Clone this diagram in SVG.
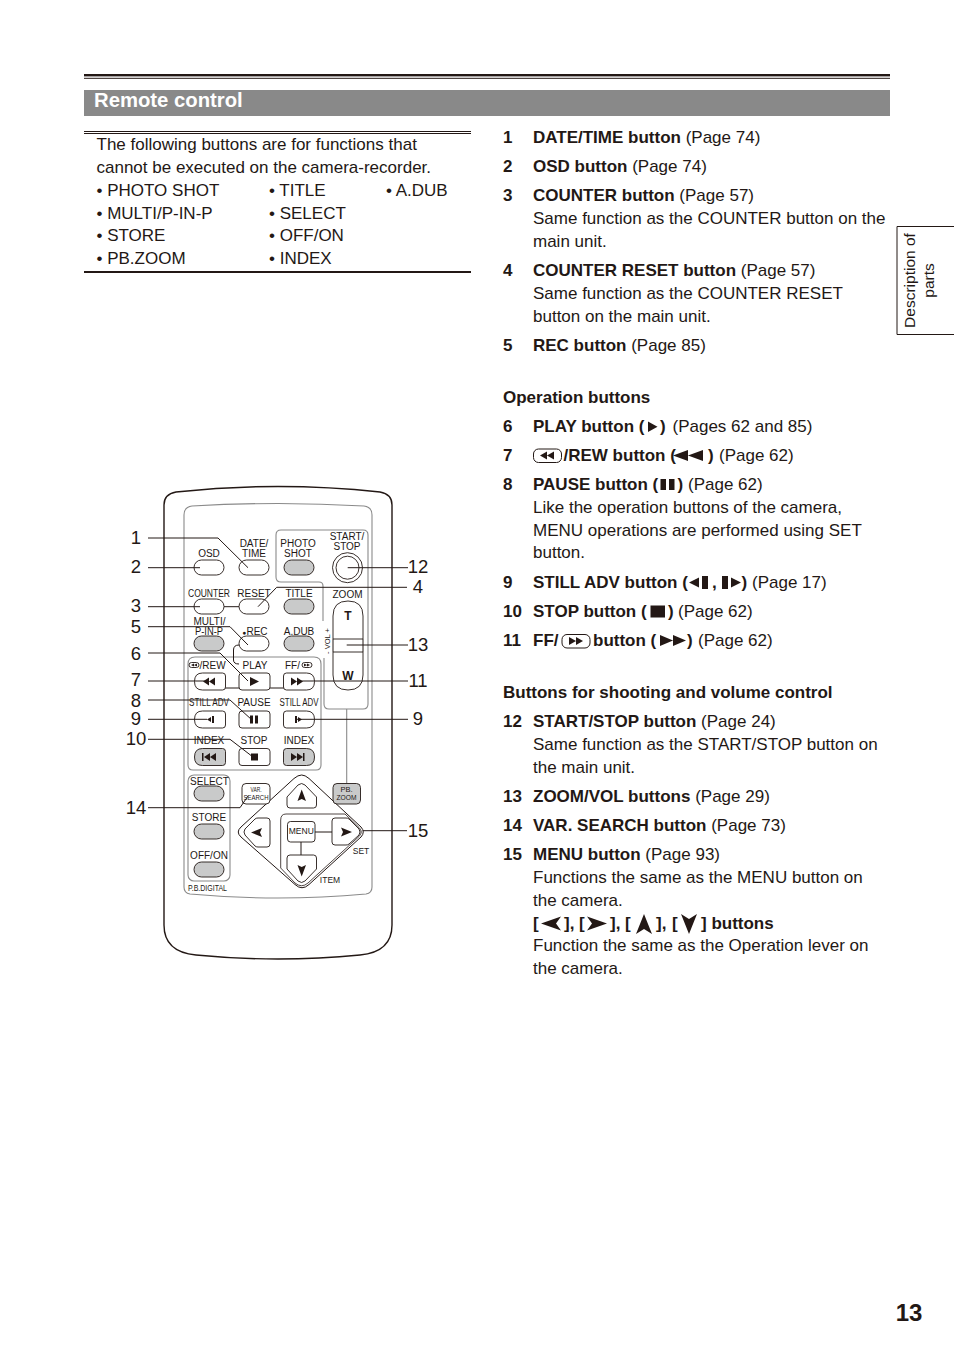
<svg xmlns="http://www.w3.org/2000/svg" width="954" height="1354" viewBox="0 0 954 1354">
<style>
text{font-family:"Liberation Sans",Arial,sans-serif;fill:#231815}
.t{font-size:17px}
.b{font-size:17px;font-weight:bold}
.n{font-size:18.5px;text-anchor:middle}
.s{font-size:10px;text-anchor:middle}
.v{font-size:7.5px;text-anchor:middle}
.o{fill:#fff;stroke:#231815;stroke-width:.9}
.g{fill:#c9caca;stroke:#231815;stroke-width:.9}
.p{fill:none;stroke:#8a8a8a;stroke-width:1.1}
.k{fill:none;stroke:#231815;stroke-width:1}
.f{fill:#231815;stroke:none}
</style>
<defs>
<path id="bl" d="M-7.500-8.500H12.500Q15.500-8.500 15.500-5.500V5.500Q15.500 8.500 12.500 8.500H-7.500Q-15.500 8.500-15.500 0Q-15.500-8.500-7.500-8.500Z"/>
<path id="br" d="M-12.500-8.500H7.500Q15.500-8.500 15.500 0Q15.500 8.500 7.500 8.500H-12.500Q-15.500 8.500-15.500 5.500V-5.500Q-15.500-8.500-12.500-8.500Z"/>
</defs>
<rect id="rule-top-a" x="84" y="74" width="806" height="2.4" fill="#231815"/>
<rect id="rule-top-b" x="84" y="77.800" width="806" height="1" fill="#231815"/>
<g id="heading"><rect x="84" y="90" width="806" height="26" fill="#898989"/>
<text x="94" y="106.500" style="font-size:20.300px;font-weight:bold;fill:#fff">Remote control</text></g>
<g id="intro">
<rect x="84" y="131" width="387" height="1" fill="#231815"/><rect x="84" y="133" width="387" height="1" fill="#231815"/>
<text class="t" x="96.500" y="150">The following buttons are for functions that</text>
<text class="t" x="96.500" y="173">cannot be executed on the camera-recorder.</text>
<text class="t" x="96.500" y="196">• PHOTO SHOT</text><text class="t" x="269" y="196">• TITLE</text><text class="t" x="386" y="196">• A.DUB</text>
<text class="t" x="96.500" y="219">• MULTI/P-IN-P</text><text class="t" x="269" y="219">• SELECT</text>
<text class="t" x="96.500" y="241">• STORE</text><text class="t" x="269" y="241">• OFF/ON</text>
<text class="t" x="96.500" y="264">• PB.ZOOM</text><text class="t" x="269" y="264">• INDEX</text>
<rect x="84" y="271" width="387" height="2" fill="#231815"/>
</g>
<g id="tab"><path d="M954 226.500H897V334.500H954" fill="none" stroke="#231815" stroke-width="1"/>
<text transform="translate(915,280.500) rotate(-90)" style="font-size:15.500px;text-anchor:middle">Description of</text>
<text transform="translate(934,280.500) rotate(-90)" style="font-size:15.500px;text-anchor:middle">parts</text></g>
<text id="page-number" x="909" y="1321" style="font-size:24px;font-weight:bold;text-anchor:middle">13</text>

<g id="remote-body">
<path d="M164 505Q164 494 176 492Q278 481 380 492Q392 494 392 505V925Q392 952 360 955Q278 963 196 955Q164 952 164 925Z" fill="#fff" stroke="#231815" stroke-width="1.4"/>
<path class="p" d="M184 515Q184 507 192 506Q278 501 364 506Q372 507 372 515V887Q372 893 366 894Q278 902 190 894Q184 893 184 887Z"/>
<path class="p" d="M323 621V586Q323 582 319 582H281Q276 582 276 577V535Q276 530 281 530H363Q368 530 368 535V704Q368 709 363 709H329Q324 709 324 704V658"/>
<path class="p" d="M346.700 709V783"/>
<path class="p" d="M188 664Q188 657 195 657H314Q321 657 321 664V765Q321 770 316 770H193Q188 770 188 765V664"/>
<path class="k" d="M239 645Q233.500 645 233.500 650V660Q233.500 664 239 664" stroke-width=".8"/>
<rect class="p" x="188" y="775" width="42" height="106" rx="6"/>
<path class="k" d="M224 606.700H239" stroke-width=".8"/>
<path class="k" d="M225 688H284" stroke-width=".8"/>
</g>
<g id="dpad">
<path class="k" d="M301.700 775Q305 775 309 778.500L361 827Q365.500 832 361 837L309 884.500Q302 891 295 884.500L241 837Q235.500 832 241 827L294 778.500Q298 775 301.700 775Z"/>
<path d="M280.700 862V820Q280.700 814 286 814H345L359 827.500Q363.500 832 359 836.500L308 883Q301.700 888.500 295 883L280.700 868Z" fill="none" stroke="#231815" stroke-width=".8"/>
<text style="font-size:8.500px;text-anchor:middle" x="361" y="854">SET</text><text style="font-size:8.500px;text-anchor:middle" x="330" y="883">ITEM</text>
<path class="k" d="M315 832H332M301 842V855"/></g>

<g id="btn-osd"><rect class="o" x="194" y="560" width="30" height="15" rx="7.500"/><text class="s" x="209" y="557">OSD</text></g>
<g id="btn-date"><rect class="o" x="239" y="560" width="30" height="15" rx="7.500"/><text class="s" x="254" y="547">DATE/</text><text class="s" x="254" y="557">TIME</text></g>
<g id="btn-photo"><rect class="g" x="284" y="560" width="30" height="15" rx="7.500"/><text class="s" x="298" y="547">PHOTO</text><text class="s" x="298" y="557">SHOT</text></g>
<g id="btn-start"><circle class="o" cx="347.500" cy="567.700" r="15"/><circle class="o" cx="347.500" cy="567.700" r="11.500"/><text class="s" x="347" y="540">START/</text><text class="s" x="347" y="549.500">STOP</text></g>
<g id="btn-counter"><rect class="o" x="194" y="599" width="30" height="15" rx="7.500"/><text class="s" x="209" y="597" textLength="42" lengthAdjust="spacingAndGlyphs">COUNTER</text></g>
<g id="btn-reset"><rect class="o" x="239" y="599" width="30" height="15" rx="7.500"/><text class="s" x="254" y="597">RESET</text></g>
<g id="btn-title"><rect class="g" x="284" y="599" width="30" height="15" rx="7.500"/><text class="s" x="299" y="597">TITLE</text></g>
<g id="btn-multi"><rect class="g" x="194" y="636" width="30" height="15" rx="7.500"/><text class="s" x="209.500" y="625">MULTI/</text><text class="s" x="209" y="634.500" textLength="28" lengthAdjust="spacingAndGlyphs">P-IN-P</text></g>
<g id="btn-rec"><rect class="o" x="239" y="636" width="30" height="15" rx="7.500"/><text class="s" x="255" y="634.500"><tspan font-size="6.500">●</tspan>REC</text></g>
<g id="btn-adub"><rect class="g" x="284" y="636" width="30" height="15" rx="7.500"/><text class="s" x="299" y="634.500">A.DUB</text></g>

<g id="btn-rew"><use href="#bl" class="o" x="210" y="681.500"/><path class="f" d="M203 681.500L209 677.500V685.500ZM209 681.500L215 677.500V685.500Z"/><rect class="o" x="189" y="662.500" width="10" height="5" rx="2.500"/><path class="f" d="M191 665L194 663.500V666.500ZM194 665L197 663.500V666.500Z"/><text style="font-size:10px" x="199.500" y="668.500">/REW</text></g>
<g id="btn-play"><rect class="o" x="239" y="673" width="31" height="17" rx="3"/><path class="f" d="M250 677L259 681.500L250 686Z"/><text class="s" x="255" y="668.500">PLAY</text></g>
<g id="btn-ff"><use href="#br" class="o" x="299" y="681.500"/><path class="f" d="M291 677.500V685.500L297 681.500ZM297 677.500V685.500L303 681.500Z"/><text style="font-size:10px" x="285" y="668.500">FF/</text><rect class="o" x="302" y="662.500" width="10" height="5" rx="2.500"/><path class="f" d="M304 663.500V666.500L307 665ZM307 663.500V666.500L310 665Z"/></g>
<g id="btn-still-l"><use href="#bl" class="o" x="210" y="719.500"/><path class="f" d="M207 719.500L211 717V722ZM212 716H214V723H212Z"/><text class="s" x="209" y="706" textLength="40" lengthAdjust="spacingAndGlyphs">STILL ADV</text></g>
<g id="btn-pause"><rect class="o" x="239" y="711" width="31" height="17" rx="3"/><path class="f" d="M250 715.500H253V723.500H250ZM255 715.500H258V723.500H255Z"/><text class="s" x="254" y="706">PAUSE</text></g>
<g id="btn-still-r"><use href="#br" class="o" x="299" y="719.500"/><path class="f" d="M295 716H297V723H295ZM298 717L302 719.500L298 722Z"/><text class="s" x="299" y="706" textLength="39" lengthAdjust="spacingAndGlyphs">STILL ADV</text></g>
<g id="btn-index-l"><use href="#bl" class="g" x="210" y="757"/><path class="f" d="M202 753H203.500V761H202ZM204 757L210 753V761ZM210 757L216 753V761Z"/><text class="s" x="209" y="744">INDEX</text></g>
<g id="btn-stop"><rect class="o" x="239" y="748.500" width="31" height="17" rx="3"/><rect class="f" x="251" y="753.500" width="7" height="7"/><text class="s" x="254" y="744">STOP</text></g>
<g id="btn-index-r"><use href="#br" class="g" x="299" y="757"/><path class="f" d="M291 753V761L297 757ZM297 753V761L303 757ZM303 753H304.500V761H303Z"/><text class="s" x="299" y="744">INDEX</text></g>

<g id="btn-select"><rect class="g" x="194" y="786" width="30" height="15" rx="7.500"/><text class="s" x="209.500" y="785">SELECT</text></g>
<g id="btn-store"><rect class="g" x="194" y="824" width="30" height="15" rx="7.500"/><text class="s" x="209" y="821">STORE</text></g>
<g id="btn-offon"><rect class="g" x="194" y="862" width="30" height="15" rx="7.500"/><text class="s" x="209" y="859">OFF/ON</text></g>
<text id="label-pbdigital" x="207.500" y="891" style="font-size:9.500px;text-anchor:middle" textLength="39" lengthAdjust="spacingAndGlyphs">P.B.DIGITAL</text>

<g id="btn-zoom"><path class="o" d="M333 639V616Q333 601 348 601Q363 601 363 616V639Z"/><path class="o" d="M333 652V675Q333 690 348 690Q363 690 363 675V652Z"/><path class="k" d="M333 639V652M363 639V652"/><text x="348" y="620" style="font-size:12px;font-weight:bold;text-anchor:middle">T</text><text x="348" y="680" style="font-size:12px;font-weight:bold;text-anchor:middle">W</text><text class="s" x="347.500" y="598">ZOOM</text><text class="v" transform="translate(330,641) rotate(-90)">- VOL +</text></g>
<g id="btn-var"><rect class="o" x="242" y="783.500" width="28" height="20.500" rx="4"/><text class="v" x="256" y="792" textLength="11" lengthAdjust="spacingAndGlyphs">VAR.</text><text class="v" x="256" y="800" textLength="25" lengthAdjust="spacingAndGlyphs">SEARCH</text></g>
<g id="btn-pbzoom"><rect class="g" x="333" y="783.500" width="27.500" height="20.500" rx="4"/><text class="v" x="346.500" y="792">PB.</text><text class="v" x="346.500" y="800" textLength="20" lengthAdjust="spacingAndGlyphs">ZOOM</text></g>
<g id="btn-up"><path class="o" stroke-linejoin="round" d="M298 785Q301.700 782 305 785L316.500 797V805Q316.500 808 313.500 808H290Q287 808 287 805V797Z"/><path class="f" d="M301.700 789.500L306 801L301.700 799L297.500 801Z"/></g>
<g id="btn-down"><path class="o" stroke-linejoin="round" d="M298 881Q301.700 884 305 881L316.500 869V858Q316.500 855 313.500 855H290Q287 855 287 858V869Z"/><path class="f" d="M301.700 876.500L306 865L301.700 867L297.500 865Z"/></g>
<g id="btn-left"><path class="o" d="M245 829L255 819Q256 818 258 818H267Q270 818 270 821V844Q270 847 267 847H258Q256 847 255 846L245 835Q243 832 245 829Z"/><path class="f" d="M251 832.500L262 828L260 832.500L262 837Z"/></g>
<g id="btn-right"><path class="o" d="M359 829L349 819Q348 818 346 818H335Q332 818 332 821V842Q332 845 335 845H346Q348 845 349 844L359 835Q361 832 359 829Z"/><path class="f" d="M352 832L341 827.500L343 832L341 836.500Z"/></g>
<g id="btn-menu"><rect class="o" x="287.500" y="821.500" width="27.500" height="20.500" rx="3"/><text x="301.300" y="834" style="font-size:8.500px;text-anchor:middle">MENU</text></g>

<g id="connectors">
<path class="k" d="M148 538H218L248 567.700"/>
<path class="k" d="M148 567.700H200"/>
<path class="k" d="M148 606.700H200"/>
<path class="k" d="M148 626.700H230L248 645"/>
<path class="k" d="M148 653H220L248 681"/>
<path class="k" d="M148 681H205"/>
<path class="k" d="M148 700H230L252 720"/>
<path class="k" d="M148 719.300H207"/>
<path class="k" d="M148 739.300H230L253 757"/>
<path class="k" d="M148 807.700H240L248 796"/>
<path class="k" d="M408 567.700H347.700"/>
<path class="k" d="M407 587.300H276.700L258 606.700"/>
<path class="k" d="M408 645H346.700"/>
<path class="k" d="M408 681H297"/>
<path class="k" d="M408 719.300H295"/>
<path class="k" d="M407 830.700H363"/>
</g>
<g id="callouts">
<text class="n" x="136" y="544">1</text><text class="n" x="136" y="573">2</text><text class="n" x="136" y="612">3</text><text class="n" x="136" y="633">5</text><text class="n" x="136" y="660">6</text><text class="n" x="136" y="686">7</text><text class="n" x="136" y="707">8</text><text class="n" x="136" y="725">9</text><text class="n" x="136" y="745">10</text><text class="n" x="136" y="814">14</text>
<text class="n" x="418" y="573">12</text><text class="n" x="418" y="593">4</text><text class="n" x="418" y="651">13</text><text class="n" x="418" y="687">11</text><text class="n" x="418" y="725">9</text><text class="n" x="418" y="837">15</text>
</g>

<g id="descriptions">
<text class="b" x="503" y="143">1</text><text class="t" x="533" y="143"><tspan class="b">DATE/TIME button</tspan> (Page 74)</text>
<text class="b" x="503" y="172">2</text><text class="t" x="533" y="172"><tspan class="b">OSD button</tspan> (Page 74)</text>
<text class="b" x="503" y="201">3</text><text class="t" x="533" y="201"><tspan class="b">COUNTER button</tspan> (Page 57)</text>
<text class="t" x="533" y="224">Same function as the COUNTER button on the</text>
<text class="t" x="533" y="247">main unit.</text>
<text class="b" x="503" y="276">4</text><text class="t" x="533" y="276"><tspan class="b">COUNTER RESET button</tspan> (Page 57)</text>
<text class="t" x="533" y="299">Same function as the COUNTER RESET</text>
<text class="t" x="533" y="322">button on the main unit.</text>
<text class="b" x="503" y="351">5</text><text class="t" x="533" y="351"><tspan class="b">REC button</tspan> (Page 85)</text>
<text class="b" x="503" y="403">Operation buttons</text>
<text class="b" x="503" y="432">6</text><text class="b" x="533" y="432">PLAY button (</text><path class="f" d="M648 421.500L657.500 426.700L648 432Z"/><text class="b" x="660" y="432">)</text><text class="t" x="672.500" y="432">(Pages 62 and 85)</text>
<text class="b" x="503" y="461">7</text><rect x="533.500" y="449" width="28" height="13.500" rx="5" fill="none" stroke="#231815"/><path class="f" d="M540 455.500L547 451.500V459.500ZM547 455.500L554 451.500V459.500Z"/><text class="b" x="563.500" y="461">/REW button (</text><path class="f" d="M673 455.500L688 450V461ZM688 455.500L703 450V461Z"/><text class="b" x="708" y="461">)</text><text class="t" x="719" y="461">(Page 62)</text>
<text class="b" x="503" y="490">8</text><text class="b" x="533" y="490">PAUSE button (</text><path class="f" d="M660.500 479H666V490H660.500ZM669 479H674.500V490H669Z"/><text class="b" x="677.500" y="490">)</text><text class="t" x="688" y="490">(Page 62)</text>
<text class="t" x="533" y="513">Like the operation buttons of the camera,</text>
<text class="t" x="533" y="536">MENU operations are performed using SET</text>
<text class="t" x="533" y="558">button.</text>
<text class="b" x="503" y="588">9</text><text class="b" x="533" y="588">STILL ADV button (</text><path class="f" d="M689 582.500L699 577.500V587.500ZM702 576H708V589H702Z"/><text class="b" x="712" y="588">,</text><path class="f" d="M722 576H728V589H722ZM731 577.500L741 582.500L731 587.500Z"/><text class="b" x="741.500" y="588">)</text><text class="t" x="752" y="588">(Page 17)</text>
<text class="b" x="503" y="617">10</text><text class="b" x="533" y="617">STOP button (</text><rect class="f" x="650.500" y="605.500" width="14.500" height="12"/><text class="b" x="668" y="617">)</text><text class="t" x="678" y="617">(Page 62)</text>
<text class="b" x="503" y="646">11</text><text class="b" x="533" y="646">FF/</text><rect x="562" y="634.500" width="28" height="13.500" rx="5" fill="none" stroke="#231815"/><path class="f" d="M569 637V645L576 641ZM576 637V645L583 641Z"/><text class="b" x="593" y="646">button (</text><path class="f" d="M660 635V646L673 640.500ZM673 635V646L686 640.500Z"/><text class="b" x="687" y="646">)</text><text class="t" x="698" y="646">(Page 62)</text>
<text class="b" x="503" y="698">Buttons for shooting and volume control</text>
<text class="b" x="503" y="727">12</text><text class="t" x="533" y="727"><tspan class="b">START/STOP button</tspan> (Page 24)</text>
<text class="t" x="533" y="750">Same function as the START/STOP button on</text>
<text class="t" x="533" y="773">the main unit.</text>
<text class="b" x="503" y="802">13</text><text class="t" x="533" y="802"><tspan class="b">ZOOM/VOL buttons</tspan> (Page 29)</text>
<text class="b" x="503" y="831">14</text><text class="t" x="533" y="831"><tspan class="b">VAR. SEARCH button</tspan> (Page 73)</text>
<text class="b" x="503" y="860">15</text><text class="t" x="533" y="860"><tspan class="b">MENU button</tspan> (Page 93)</text>
<text class="t" x="533" y="883">Functions the same as the MENU button on</text>
<text class="t" x="533" y="906">the camera.</text>
<text class="b" x="533" y="929">[</text><path class="f" d="M541 923.500L561 916.500L556 923.500L561 930.500Z"/><text class="b" x="564" y="929">],</text><text class="b" x="579" y="929">[</text><path class="f" d="M607 923.500L587 916.500L592 923.500L587 930.500Z"/><text class="b" x="610" y="929">],</text><text class="b" x="625" y="929">[</text><path class="f" d="M644 914L652 934L644 929L636 934Z"/><text class="b" x="656" y="929">],</text><text class="b" x="672" y="929">[</text><path class="f" d="M689 934L697 914L689 919L681 914Z"/><text class="b" x="701" y="929">] buttons</text>
<text class="t" x="533" y="951">Function the same as the Operation lever on</text>
<text class="t" x="533" y="974">the camera.</text>
</g>
</svg>
